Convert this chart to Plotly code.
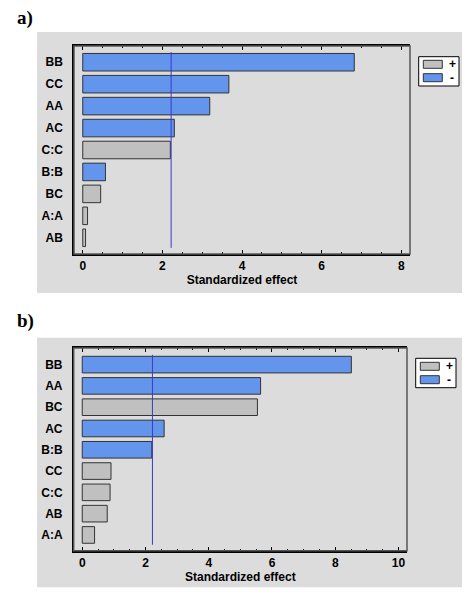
import plotly.graph_objects as go

# ============================================================================
# DATA
# ============================================================================

terms_a = ["BB", "CC", "AA", "AC", "C:C", "B:B", "BC", "A:A", "AB"]
effect_a = [6.82, 3.67, 3.19, 2.30, 2.20, 0.57, 0.45, 0.12, 0.07]
sign_a = ["-", "-", "-", "-", "+", "-", "+", "+", "+"]

terms_b = ["BB", "AA", "BC", "AC", "B:B", "CC", "C:C", "AB", "A:A"]
effect_b = [8.51, 5.64, 5.54, 2.59, 2.20, 0.91, 0.88, 0.79, 0.39]
sign_b = ["-", "-", "+", "-", "-", "+", "+", "+", "+"]

critical_a = 2.22
critical_b = 2.22

x_ticks_a = [0, 2, 4, 6, 8]
x_ticks_b = [0, 2, 4, 6, 8, 10]

legend_signs = ["+", "-"]

# ============================================================================
# STYLE
# ============================================================================

# page body has an 8px margin, so the figure is a bit smaller than the window
OFF = 8
W, H = 475 - OFF, 599 - OFF
BLUE = "#6495ed"
GRAY = "#c0c0c0"
PANEL = "#dcdcdc"
LINE = "#3a3acc"
SANS = "Liberation Sans, Arial, sans-serif"
FONT = dict(family=SANS, size=12, color="black", weight="bold")
sign_colors = {"+": GRAY, "-": BLUE}


def px_x(p):
    return (p - OFF) / W


def px_y(p):
    return 1 - (p - OFF) / H


fig = go.Figure()


def add_panel(terms, effects, signs, xa, ya, width):
    for s in legend_signs:
        ys = [t for t, g in zip(terms, signs) if g == s]
        xs = [e for e, g in zip(effects, signs) if g == s]
        fig.add_trace(go.Bar(
            x=xs, y=ys, orientation="h", name=s, showlegend=False,
            marker=dict(color=sign_colors[s], line=dict(color="#333333", width=1)),
            width=width, xaxis=xa, yaxis=ya,
        ))


add_panel(terms_a, effect_a, sign_a, "x", "y", 0.8)
add_panel(terms_b, effect_b, sign_b, "x2", "y2", 0.78)

# gray backgrounds behind each chart
for top, bottom in [(32, 293), (337.7, 587.3)]:
    fig.add_shape(type="rect", xref="paper", yref="paper",
                  x0=px_x(37), x1=px_x(462), y0=px_y(bottom), y1=px_y(top),
                  fillcolor=PANEL, line=dict(width=0), layer="below")

# critical value line
fig.add_shape(type="line", xref="x", yref="y", x0=critical_a, x1=critical_a,
              y0=-0.46, y1=len(terms_a) - 1 + 0.46, line=dict(color=LINE, width=1))
fig.add_shape(type="line", xref="x2", yref="y2", x0=critical_b, x1=critical_b,
              y0=-0.46, y1=len(terms_b) - 1 + 0.46, line=dict(color=LINE, width=1))

# gray frame on top / right of plot areas
for (l, r, t, b) in [(74, 410, 46, 254), (73.7, 407, 348, 550.7)]:
    fig.add_shape(type="rect", xref="paper", yref="paper",
                  x0=px_x(l), x1=px_x(r), y0=px_y(b), y1=px_y(t),
                  line=dict(color="#555555", width=1.5))

# small legend boxes (+ / -)
annotations = []
for (bx0, bx1, by0, by1, sw_x0, sw_x1, sw_y, txt_x) in [
    (418.7, 459, 56.7, 86, 423.3, 442.3, [60.3, 73.7], 452),
    (415.7, 456, 358.3, 387.7, 420.3, 439.3, [362.3, 375.7], 449),
]:
    fig.add_shape(type="rect", xref="paper", yref="paper",
                  x0=px_x(bx0), x1=px_x(bx1), y0=px_y(by1), y1=px_y(by0),
                  fillcolor="white", line=dict(color="black", width=1))
    for s, sy in zip(legend_signs, sw_y):
        fig.add_shape(type="rect", xref="paper", yref="paper",
                      x0=px_x(sw_x0), x1=px_x(sw_x1), y0=px_y(sy + 8), y1=px_y(sy),
                      fillcolor=sign_colors[s], line=dict(color="#333333", width=1))
        annotations.append(dict(
            text=s, x=px_x(txt_x), y=px_y(sy + 4), xref="paper", yref="paper",
            xanchor="center", yanchor="middle", showarrow=False,
            font=dict(family=SANS, size=12, color="black", weight="bold")))

for label, ly in [("a)", 18), ("b)", 321)]:
    annotations.append(dict(
        text="<b>" + label + "</b>", x=px_x(15), y=px_y(ly), xref="paper", yref="paper",
        xanchor="left", yanchor="middle", showarrow=False,
        font=dict(family="Liberation Serif, Times New Roman, serif", size=19, color="black")))


def x_axis(domain, anchor, rng, ticks):
    return dict(
        domain=domain, anchor=anchor, range=rng,
        tickvals=ticks, ticks="inside", ticklen=4, tickcolor="black",
        showline=True, linecolor="black", linewidth=1.5, mirror="allticks",
        minor=dict(ticks="inside", ticklen=2, dtick=0.5, tickcolor="black"),
        showgrid=False, zeroline=False, tickfont=FONT,
        title=dict(text="Standardized effect", font=FONT, standoff=2),
    )


def y_axis(domain, anchor, terms, rng):
    return dict(
        domain=domain, anchor=anchor, type="category",
        categoryorder="array", categoryarray=terms, range=rng,
        ticks="", showline=True, linecolor="black", linewidth=1.5,
        showgrid=False, zeroline=False, tickfont=FONT, ticklabelstandoff=7,
    )


fig.update_layout(
    width=W, height=H,
    margin=dict(l=0, r=0, t=0, b=0),
    paper_bgcolor="white", plot_bgcolor="white",
    barmode="overlay", font=FONT, showlegend=False,
    xaxis=x_axis([px_x(74), px_x(410)], "y", [-0.22, 8.22], x_ticks_a),
    yaxis=y_axis([px_y(254), px_y(46)], "x", terms_a, [8.74, -0.74]),
    xaxis2=x_axis([px_x(73.7), px_x(407)], "y2", [-0.27, 10.27], x_ticks_b),
    yaxis2=y_axis([px_y(550.7), px_y(348)], "x2", terms_b, [8.74, -0.78]),
    annotations=annotations,
)

fig.write_html("out.html")
